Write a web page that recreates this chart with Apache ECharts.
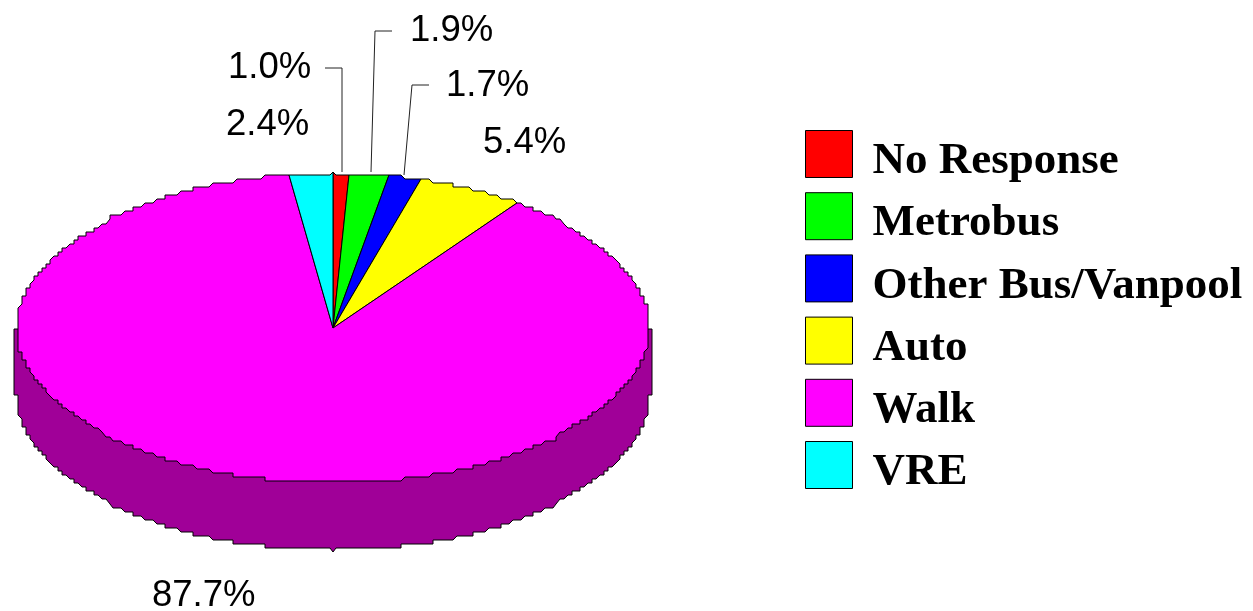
<!DOCTYPE html>
<html>
<head>
    <meta charset="utf-8">
    <title>Mode share</title>
    <style>html,body{margin:0;padding:0;background:#fff}</style>
</head>
<body>
    <div id="main" style="width:1253px;height:611px;"></div>
    <script src="https://cdn.jsdelivr.net/npm/echarts@6/dist/echarts.min.js"></script>
    <script>
var categories = ['No Response', 'Metrobus', 'Other Bus/Vanpool', 'Auto', 'Walk', 'VRE'];
var shares = [1.0, 1.9, 1.7, 5.4, 87.7, 2.4];
var colors = ['#ff0000', '#00ff00', '#0000ff', '#ffff00', '#ff00ff', '#00ffff'];

// tilted pie geometry
var cx = 333, cy = 328, rx = 315, ry = 153, depth = 67, wallOut = 4;
var grid = 4; // the original outline is stepped, snap the rim to this
var total = shares.reduce(function (a, b) { return a + b; }, 0);

// where each percent label goes, and its leader line if it has one
var labelSpots = [
    { x: 228, y: 68, line: [[325, 68], [342, 68], [342, 172]] },
    { x: 410, y: 31, line: [[392, 31], [375, 31], [371, 172]] },
    { x: 446, y: 86, line: [[429, 85], [412, 85], [404, 175]] },
    { x: 483, y: 143 },
    { x: 152, y: 596 },
    { x: 226, y: 125 }
];

// offset from the centre along one axis, snapped to the grid.
// near the extreme of the ellipse snap from the extreme so it is still reached
function stepped(r, t) {
    var m = Math.abs(t);
    var d = m > 0.7 ? r - Math.floor(r * (1 - m) / grid) * grid : Math.floor(r * m / grid) * grid;
    if (d === 0 && m > 1e-6) d = 3; // gives the notches at 12 and 6 o'clock some width
    return t < 0 ? -d : d;
}

// rim point, angle in radians clockwise from 12 o'clock
function rim(a, oy) {
    var s = Math.sin(a), c = Math.cos(a);
    var x = cx + stepped(rx, s);
    var y = cy - stepped(ry, c);
    // little notches at 12 and 6 o'clock
    if (Math.abs(s) < 1e-6) {
        x = cx;
        y += c > 0 ? -3 : 4;
    }
    return [x, y + (oy || 0)];
}

function slicePoints(a0, a1) {
    var pts = [[cx, cy]];
    var step = Math.PI / 300;
    for (var a = a0; a < a1 - 1e-6; a += step) pts.push(rim(a));
    pts.push(rim(a1));
    return pts;
}

function wallPoints() {
    var pts = [[cx - rx - wallOut, cy + 1], [cx - rx - wallOut, cy + depth]];
    var step = Math.PI / 300;
    for (var i = 0; i <= 300; i++) pts.push(rim(1.5 * Math.PI - i * step, depth));
    pts.push([cx + rx + wallOut, cy + depth], [cx + rx + wallOut, cy + 1]);
    return pts;
}

var series = [{
    type: 'custom',
    name: 'wall',
    coordinateSystem: 'none',
    silent: true,
    data: [0],
    renderItem: function () {
        return {
            type: 'polygon',
            shape: { points: wallPoints() },
            style: { fill: '#a00098', stroke: '#000', lineWidth: 1 }
        };
    }
}];

var sum = 0;
categories.forEach(function (name, i) {
    var a0 = sum / total * Math.PI * 2;
    sum += shares[i];
    var a1 = sum / total * Math.PI * 2;
    series.push({
        type: 'custom',
        name: name,
        coordinateSystem: 'none',
        silent: true,
        itemStyle: { color: colors[i] },
        data: [shares[i]],
        renderItem: function () {
            return {
                type: 'polygon',
                shape: { points: slicePoints(a0, a1) },
                style: { fill: colors[i], stroke: '#000', lineWidth: 1 }
            };
        }
    });
});

// labels on top of everything
series.push({
    type: 'custom',
    name: 'labels',
    coordinateSystem: 'none',
    silent: true,
    data: [0],
    renderItem: function () {
        var kids = [];
        shares.forEach(function (v, i) {
            var spot = labelSpots[i];
            kids.push({
                type: 'text',
                x: spot.x,
                y: spot.y,
                style: {
                    text: v.toFixed(1) + '%',
                    fill: '#000',
                    font: '36.5px "Liberation Sans", Arial, sans-serif',
                    verticalAlign: 'middle'
                }
            });
            if (spot.line) {
                kids.push({
                    type: 'polyline',
                    shape: { points: spot.line },
                    style: { fill: 'none', stroke: '#222', lineWidth: 1 }
                });
            }
        });
        return { type: 'group', children: kids };
    }
});

var myChart = echarts.init(document.getElementById('main'));

var legendFont = {
    color: '#000',
    fontFamily: '"Liberation Serif", "Times New Roman", serif',
    fontWeight: 'bold',
    fontSize: 45,
    lineHeight: 34
};

myChart.setOption({
    animation: false,
    backgroundColor: '#fff',
    legend: {
        data: categories,
        orient: 'vertical',
        left: 805,
        top: 130,
        padding: 0,
        icon: 'rect',
        itemWidth: 47,
        itemHeight: 47,
        itemGap: 8.2,
        selectedMode: false,
        itemStyle: { borderColor: '#000', borderWidth: 1 },
        formatter: '{t|{name}}',
        textStyle: {
            color: '#000',
            padding: [15, 0, 0, 15],
            rich: { t: legendFont }
        }
    },
    series: series
});
    </script>
</body>
</html>
